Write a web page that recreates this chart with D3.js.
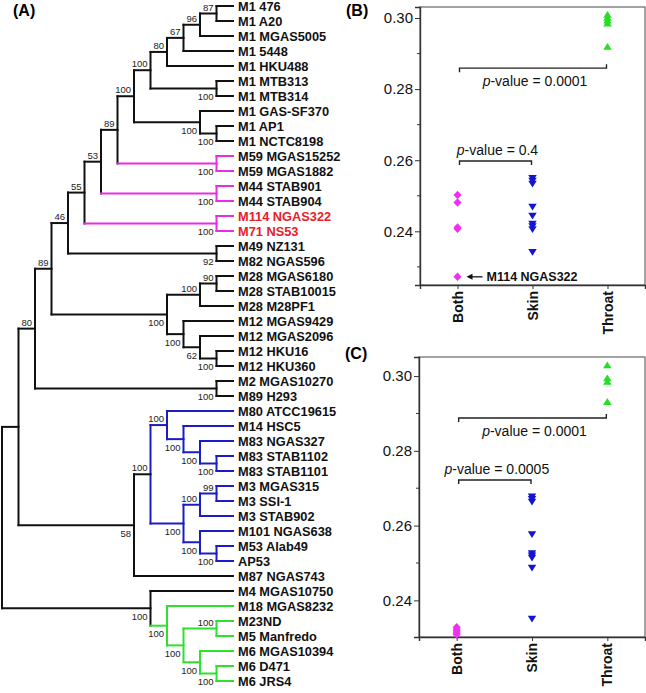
<!DOCTYPE html>
<html><head><meta charset="utf-8">
<script src="https://cdn.jsdelivr.net/npm/d3@7"></script>
<style>
html,body{margin:0;padding:0;background:#fff;}
svg{display:block;font-family:Arial,"Liberation Sans",sans-serif;}
</style></head>
<body>
<script>
// ---------------- DATA ----------------
const strains = [
 "M1 476","M1 A20","M1 MGAS5005","M1 5448","M1 HKU488","M1 MTB313","M1 MTB314",
 "M1 GAS-SF370","M1 AP1","M1 NCTC8198","M59 MGAS15252","M59 MGAS1882",
 "M44 STAB901","M44 STAB904","M114 NGAS322","M71 NS53","M49 NZ131","M82 NGAS596",
 "M28 MGAS6180","M28 STAB10015","M28 M28PF1","M12 MGAS9429","M12 MGAS2096",
 "M12 HKU16","M12 HKU360","M2 MGAS10270","M89 H293","M80 ATCC19615","M14 HSC5",
 "M83 NGAS327","M83 STAB1102","M83 STAB1101","M3 MGAS315","M3 SSI-1","M3 STAB902",
 "M101 NGAS638","M53 Alab49","AP53","M87 NGAS743","M4 MGAS10750","M18 MGAS8232",
 "M23ND","M5 Manfredo","M6 MGAS10394","M6 D471","M6 JRS4"
];
// topology (leaf = index in strains), internal label = bootstrap support
const cladeM1  = "((((((0,1)87,2)96,3)67,4)80,(5,6)100)100,(7,(8,9)100)100)100";
const cladeK   = "(" + cladeM1 + ",(10,11)100)89";
const cladeM   = "(" + cladeK + ",(12,13)100)53";
const cladeO   = "(" + cladeM + ",(14,15)100)55";
const cladeQ   = "(" + cladeO + ",(16,17)92)46";
const cladeU   = "(((18,19)90,20)100,(21,(22,(23,24)100)62)100)100";
const cladeV   = "(" + cladeQ + "," + cladeU + ")89";
const cladeX   = "(" + cladeV + ",(25,26)100)80";
const cladeSkin= "(((27,(28,(29,(30,31)100)100)100)100,(((32,33)99,34)100,(35,(36,37)100)100)100)100,38)58";
const cladeGreen = "(39,(40,((41,42)100,(43,(44,45)100)100)100)100)100";
const treeNewick = "((" + cladeX + "," + cladeSkin + ")," + cladeGreen + ")";

const redLeaves = [14, 15];
const colorClades = [
  {leaves:[10,11], color:"#e62ee6", incoming:true},
  {leaves:[12,13], color:"#e62ee6", incoming:true},
  {leaves:[14,15], color:"#e62ee6", incoming:true},
  {leaves:[27,37], color:"#1c1cc4", incoming:false},
  {leaves:[40,45], color:"#2fe02f", incoming:true}
];

const categories = ["Both","Skin","Throat"];
const yTicks = [0.24, 0.26, 0.28, 0.30];
const yMinor = [0.23, 0.25, 0.27, 0.29];

const bothB   = [0.2502, 0.2481, 0.2411, 0.2407, 0.2272];
const skinB   = [0.2549, 0.2541, 0.2533, 0.2468, 0.2443, 0.2420, 0.2413, 0.2405, 0.2341];
const throatB = [0.3010, 0.3002, 0.2994, 0.2986, 0.2920];

const bothC   = [0.2328, 0.2323, 0.2318, 0.2313, 0.2309];
const skinC   = [0.2677, 0.2670, 0.2663, 0.2576, 0.2525, 0.2519, 0.2513, 0.2486, 0.2350];
const throatC = [0.3030, 0.2995, 0.2986, 0.2932];

const bracketsB = [
  {from:"Both", to:"Throat", level:0.2859, p:"0.0001", textBelow:true},
  {from:"Both", to:"Skin",   level:0.2598, p:"0.4",    textBelow:false}
];
const bracketsC = [
  {from:"Both", to:"Throat", level:0.2888, p:"0.0001", textBelow:true},
  {from:"Both", to:"Skin",   level:0.2722, p:"0.0005", textBelow:false}
];
const annotB = {cat:"Both", value:0.2272, text:"M114 NGAS322"};

// ---------------- SETUP ----------------
const W = 646, H = 693;
const svg = d3.select("body").append("svg").attr("width", W).attr("height", H);

// ---------------- TREE ----------------
function parseNewick(s){
  let i = 0;
  function readLabel(){
    let t = "";
    while (i < s.length && /[0-9.]/.test(s[i])) t += s[i++];
    return t;
  }
  function node(){
    if (s[i] === "("){
      i++;
      const children = [node()];
      while (s[i] === ","){ i++; children.push(node()); }
      i++; // ')'
      const lab = readLabel();
      return {children, support: lab === "" ? null : +lab};
    }
    return {leaf: +readLabel()};
  }
  return node();
}
const root = d3.hierarchy(parseNewick(treeNewick), d => d.children);
const maxH = root.height;
const leafCount = strains.length;
const xCol = d3.scaleLinear().domain([0, maxH]).range([2, 233]);
const yLeaf = d3.scaleLinear().domain([0, leafCount - 1]).range([6, 681]);

root.eachAfter(d => {
  d.px = xCol(maxH - d.height);
  if (!d.children) d.py = yLeaf(d.data.leaf);
  else d.py = (d.children[0].py + d.children[d.children.length - 1].py) / 2;
});

// colouring
function lca(a, b){
  const na = root.leaves().find(l => l.data.leaf === a);
  const nb = root.leaves().find(l => l.data.leaf === b);
  return na.path(nb).reduce((m, n) => n.depth < m.depth ? n : m);
}
root.each(d => { d.col = "#111"; d.inCol = "#111"; });
colorClades.forEach(c => {
  const n = lca(c.leaves[0], c.leaves[1]);
  n.each(d => { d.col = c.color; d.inCol = c.color; });
  if (!c.incoming) n.inCol = "#111";
});

const gTree = svg.append("g").attr("fill", "none").attr("stroke-width", 2).attr("stroke-linecap", "square");
root.descendants().forEach(d => {
  if (d.children){
    gTree.append("line")
      .attr("x1", d.px).attr("x2", d.px)
      .attr("y1", d.children[0].py).attr("y2", d.children[d.children.length-1].py)
      .attr("stroke", d.col);
  }
  if (d.parent){
    gTree.append("line")
      .attr("x1", d.parent.px).attr("x2", d.px)
      .attr("y1", d.py).attr("y2", d.py)
      .attr("stroke", d.inCol);
  }
});

// bootstrap labels
root.descendants().filter(d => d.children && d.parent && d.data.support != null).forEach(d => {
  const first = d.parent.children[0] === d;
  svg.append("text")
    .attr("x", d.px - 3)
    .attr("y", first ? d.py - 3 : d.py + 11.5)
    .attr("text-anchor", "end")
    .attr("font-size", "9.5px")
    .attr("fill", "#222")
    .text(d.data.support);
});

// leaf labels
root.leaves().forEach(d => {
  svg.append("text")
    .attr("x", 238).attr("y", d.py).attr("dy", "0.36em")
    .attr("font-size", "12.8px").attr("font-weight", "bold")
    .attr("fill", redLeaves.includes(d.data.leaf) ? "#e8202a" : "#111")
    .text(strains[d.data.leaf]);
});

// panel letters
svg.append("text").attr("x", 13).attr("y", 16).attr("font-size", "16px").attr("font-weight", "bold").text("(A)");
svg.append("text").attr("x", 346).attr("y", 16).attr("font-size", "16px").attr("font-weight", "bold").text("(B)");
svg.append("text").attr("x", 345).attr("y", 359).attr("font-size", "16px").attr("font-weight", "bold").text("(C)");

// ---------------- SCATTER PANELS ----------------
const symbolShapes = {
  Both: { draw(ctx, s){ const r = Math.sqrt(s) / 2; ctx.moveTo(0, -r); ctx.lineTo(r*0.95, 0); ctx.lineTo(0, r); ctx.lineTo(-r*0.95, 0); ctx.closePath(); } },
  Skin: { draw(ctx, s){ const r = Math.sqrt(s) / 2; ctx.moveTo(-r, -r*0.8); ctx.lineTo(r, -r*0.8); ctx.lineTo(0, r*0.8); ctx.closePath(); } },
  Throat: { draw(ctx, s){ const r = Math.sqrt(s) / 2; ctx.moveTo(-r, r*0.8); ctx.lineTo(r, r*0.8); ctx.lineTo(0, -r*0.8); ctx.closePath(); } }
};
const catColor = {Both:"#f030f0", Skin:"#1515d0", Throat:"#22e022"};

function panel(opts){
  const {left, right, top, bottom, domain, series, brackets, annot} = opts;
  const x = d3.scalePoint().domain(categories).range([left, right]).padding(0.5);
  const y = d3.scaleLinear().domain(domain).range([bottom, top]);
  const g = svg.append("g");

  // frame
  g.append("rect").attr("x", left).attr("y", top).attr("width", right - left).attr("height", bottom - top)
    .attr("fill", "none").attr("stroke", "#666").attr("stroke-width", 1.2);

  // y axis
  const ya = g.append("g").attr("transform", `translate(${left},0)`)
    .call(d3.axisLeft(y).tickValues(yTicks).tickFormat(d3.format(".2f")).tickSize(5).tickPadding(2));
  ya.select(".domain").attr("stroke", "#333").attr("stroke-width", 1.4);
  ya.selectAll(".tick line").attr("stroke", "#333");
  ya.selectAll(".tick text").attr("font-size", "15px").attr("fill", "#111").attr("font-family", "Arial, 'Liberation Sans', sans-serif");
  g.append("g").selectAll("line").data(yMinor.filter(v => v >= domain[0] && v <= domain[1])).join("line")
    .attr("x1", left - 3).attr("x2", left).attr("y1", d => y(d)).attr("y2", d => y(d)).attr("stroke", "#333");

  // x axis
  const xa = g.append("g").attr("transform", `translate(0,${bottom})`)
    .call(d3.axisBottom(x).tickSize(4).tickFormat(""));
  xa.select(".domain").attr("stroke", "#333").attr("stroke-width", 1.4);
  xa.selectAll(".tick line").attr("stroke", "#333");
  categories.forEach(c => {
    g.append("text")
      .attr("transform", `translate(${x(c)},${bottom + 6}) rotate(-90)`)
      .attr("text-anchor", "end").attr("dy", "0.36em")
      .attr("font-size", "14px").attr("font-weight", "bold").attr("fill", "#111")
      .text(c);
  });

  // points
  series.forEach(s => {
    g.append("g").selectAll("path").data(s.values).join("path")
      .attr("transform", v => `translate(${x(s.cat)},${y(v)})`)
      .attr("d", d3.symbol(symbolShapes[s.cat], 72)())
      .attr("fill", catColor[s.cat]);
  });

  // brackets
  brackets.forEach(b => {
    const x1 = x(b.from) + 2, x2 = x(b.to) - 1, yy = y(b.level);
    const path = b.textBelow
      ? `M${x1},${yy + 4}V${yy}H${x2}V${yy - 4}`
      : `M${x1},${yy + 4}V${yy}H${x2}V${yy + 4}`;
    g.append("path").attr("d", path).attr("fill", "none").attr("stroke", "#222").attr("stroke-width", 1.4);
    const t = g.append("text")
      .attr("x", (x1 + x2) / 2 + 2)
      .attr("y", b.textBelow ? yy + 18 : yy - 6)
      .attr("text-anchor", "middle").attr("font-size", "14px").attr("fill", "#111");
    t.append("tspan").attr("font-style", "italic").text("p");
    t.append("tspan").text("-value = " + b.p);
  });

  // annotation
  if (annot){
    const ax = x(annot.cat), ay = y(annot.value);
    g.append("line").attr("x1", ax + 14).attr("x2", ax + 25).attr("y1", ay).attr("y2", ay)
      .attr("stroke", "#111").attr("stroke-width", 1.3);
    g.append("path").attr("d", `M${ax + 9},${ay}L${ax + 15},${ay - 3}L${ax + 15},${ay + 3}Z`).attr("fill", "#111");
    g.append("text").attr("x", ax + 29).attr("y", ay).attr("dy", "0.36em")
      .attr("font-size", "12.5px").attr("font-weight", "bold").attr("fill", "#111").text(annot.text);
  }
}

panel({
  left: 420, right: 645, top: 7, bottom: 285,
  domain: [0.2249, 0.3031],
  series: [{cat:"Both", values:bothB}, {cat:"Skin", values:skinB}, {cat:"Throat", values:throatB}],
  brackets: bracketsB, annot: annotB
});
panel({
  left: 419, right: 645, top: 357, bottom: 637,
  domain: [0.2302, 0.3051],
  series: [{cat:"Both", values:bothC}, {cat:"Skin", values:skinC}, {cat:"Throat", values:throatC}],
  brackets: bracketsC, annot: null
});
</script>
</body></html>
